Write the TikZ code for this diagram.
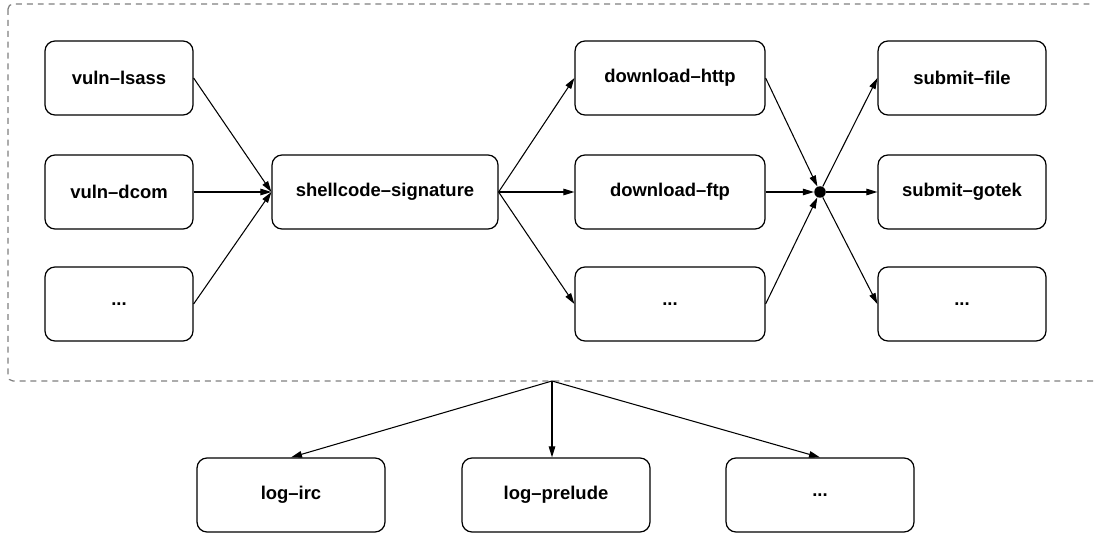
\documentclass[tikz,border=0pt]{standalone}
\usepackage{fontspec}
\setmainfont{Liberation Sans}
\usetikzlibrary{arrows.meta}

\begin{document}
\begin{tikzpicture}[x=0.02cm,y=-0.02cm,
box/.style = {draw,line width=0.7pt,rounded corners=0.2cm,inner sep=0pt,
        minimum height=1.48cm,font=\fontsize{10.5}{12}\selectfont\bfseries},
frame/.style = {draw=gray,line width=0.7pt,dash pattern=on 3.4pt off 2.8pt,
        rounded corners=0.1cm},
link/.style = {line width=0.6pt,-{Triangle[length=2.2mm,width=1.3mm]}},
every node/.append style = {text=black}]

        \clip (0,0) rectangle (1094,533);

        % outer dashed frame
        \draw[frame] (8,4) rectangle (1120,381);
        \coordinate (Frame_B) at (552,381);

        % vulnerability modules
        \node[box,minimum width=2.96cm] (VulnLsass) at (119,78) {vuln--lsass};
        \node[box,minimum width=2.96cm] (VulnDcom) at (119,192) {vuln--dcom};
        \node[box,minimum width=2.96cm] (VulnMore) at (119,304) {...};

        \node[box,minimum width=4.52cm] (Shellcode) at (385,192) {shellcode--signature};

        % download modules
        \node[box,minimum width=3.8cm] (DlHttp) at (670,78) {download--http};
        \node[box,minimum width=3.8cm] (DlFtp) at (670,192) {download--ftp};
        \node[box,minimum width=3.8cm] (DlMore) at (670,304) {...};

        \node[circle,fill=black,inner sep=0pt,minimum size=0.23cm] (Join) at (820,192) {};

        % submit modules
        \node[box,minimum width=3.36cm] (SubFile) at (962,78) {submit--file};
        \node[box,minimum width=3.36cm] (SubGotek) at (962,192) {submit--gotek};
        \node[box,minimum width=3.36cm] (SubMore) at (962,304) {...};

        % log modules
        \node[box,minimum width=3.76cm] (LogIrc) at (291,495) {log--irc};
        \node[box,minimum width=3.76cm] (LogPrelude) at (556,495) {log--prelude};
        \node[box,minimum width=3.76cm] (LogMore) at (820,495) {...};

        \draw[link] (VulnLsass.east) -- (Shellcode.west);
        \draw[link] (VulnDcom.east) -- (Shellcode.west);
        \draw[link] (VulnMore.east) -- (Shellcode.west);

        \draw[link] (Shellcode.east) -- (DlHttp.west);
        \draw[link] (Shellcode.east) -- (DlFtp.west);
        \draw[link] (Shellcode.east) -- (DlMore.west);

        \draw[link] (DlHttp.east) -- (Join);
        \draw[link] (DlFtp.east) -- (Join);
        \draw[link] (DlMore.east) -- (Join);

        \draw[link] (Join) -- (SubFile.west);
        \draw[link] (Join) -- (SubGotek.west);
        \draw[link] (Join) -- (SubMore.west);

        \draw[link] (Frame_B) -- (LogIrc.north);
        \draw[link] (Frame_B) -- (LogPrelude.north -| Frame_B);
        \draw[link] (Frame_B) -- (LogMore.north);

    \end{tikzpicture}
\end{document}
